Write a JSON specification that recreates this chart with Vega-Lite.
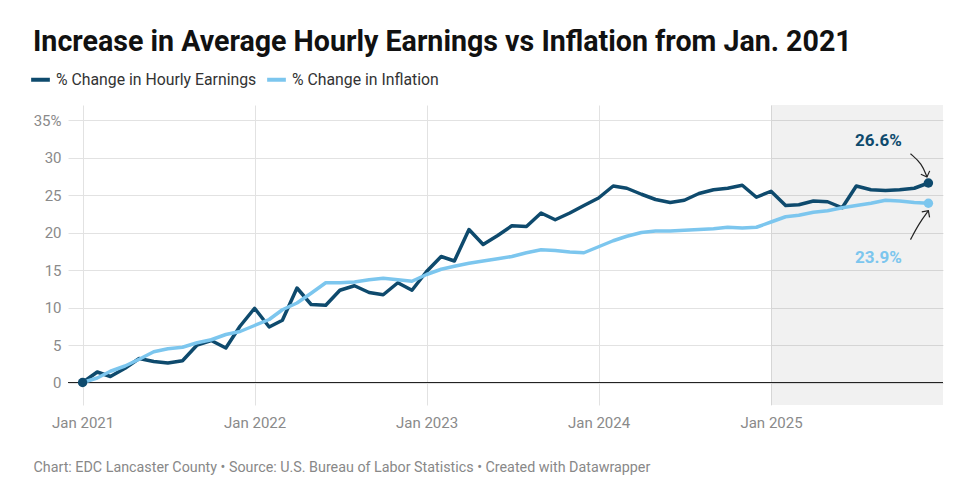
{
  "$schema": "https://vega.github.io/schema/vega-lite/v6.json",
  "width": 875,
  "height": 300,
  "autosize": {"type": "none"},
  "padding": {"left": 68, "top": 105, "right": 12, "bottom": 82},
  "background": "white",
  "config": {"font": "Roboto", "view": {"stroke": null}},
  "title": {
    "text": "Increase in Average Hourly Earnings vs Inflation from Jan. 2021",
    "anchor": "start",
    "frame": "group",
    "dx": -35,
    "offset": -12,
    "fontSize": 28.6,
    "fontWeight": "bold",
    "font": "Roboto",
    "color": "#111111",
    "baseline": "alphabetic"
  },
  "datasets": {
    "series": [
      {"date": "2021-01-01", "earnings": 0, "inflation": 0},
      {"date": "2021-02-01", "earnings": 1.4, "inflation": 0.6},
      {"date": "2021-03-01", "earnings": 0.8, "inflation": 1.5},
      {"date": "2021-04-01", "earnings": 1.9, "inflation": 2.2},
      {"date": "2021-05-01", "earnings": 3.2, "inflation": 3.1},
      {"date": "2021-06-01", "earnings": 2.8, "inflation": 4.1},
      {"date": "2021-07-01", "earnings": 2.6, "inflation": 4.5},
      {"date": "2021-08-01", "earnings": 2.9, "inflation": 4.7},
      {"date": "2021-09-01", "earnings": 5.0, "inflation": 5.3},
      {"date": "2021-10-01", "earnings": 5.6, "inflation": 5.7},
      {"date": "2021-11-01", "earnings": 4.6, "inflation": 6.4},
      {"date": "2021-12-01", "earnings": 7.5, "inflation": 6.8},
      {"date": "2022-01-01", "earnings": 9.9, "inflation": 7.6},
      {"date": "2022-02-01", "earnings": 7.4, "inflation": 8.4},
      {"date": "2022-03-01", "earnings": 8.3, "inflation": 9.7},
      {"date": "2022-04-01", "earnings": 12.6, "inflation": 10.6},
      {"date": "2022-05-01", "earnings": 10.4, "inflation": 11.9},
      {"date": "2022-06-01", "earnings": 10.3, "inflation": 13.3},
      {"date": "2022-07-01", "earnings": 12.3, "inflation": 13.3},
      {"date": "2022-08-01", "earnings": 12.9, "inflation": 13.4},
      {"date": "2022-09-01", "earnings": 12.0, "inflation": 13.7},
      {"date": "2022-10-01", "earnings": 11.7, "inflation": 13.9},
      {"date": "2022-11-01", "earnings": 13.3, "inflation": 13.7},
      {"date": "2022-12-01", "earnings": 12.3, "inflation": 13.5},
      {"date": "2023-01-01", "earnings": 14.8, "inflation": 14.4},
      {"date": "2023-02-01", "earnings": 16.8, "inflation": 15.1},
      {"date": "2023-03-01", "earnings": 16.2, "inflation": 15.5},
      {"date": "2023-04-01", "earnings": 20.4, "inflation": 15.9},
      {"date": "2023-05-01", "earnings": 18.4, "inflation": 16.2},
      {"date": "2023-06-01", "earnings": 19.6, "inflation": 16.5},
      {"date": "2023-07-01", "earnings": 20.9, "inflation": 16.8},
      {"date": "2023-08-01", "earnings": 20.8, "inflation": 17.3},
      {"date": "2023-09-01", "earnings": 22.6, "inflation": 17.7},
      {"date": "2023-10-01", "earnings": 21.7, "inflation": 17.6},
      {"date": "2023-11-01", "earnings": 22.6, "inflation": 17.4},
      {"date": "2023-12-01", "earnings": 23.6, "inflation": 17.3},
      {"date": "2024-01-01", "earnings": 24.6, "inflation": 18.1},
      {"date": "2024-02-01", "earnings": 26.2, "inflation": 18.9},
      {"date": "2024-03-01", "earnings": 25.9, "inflation": 19.5},
      {"date": "2024-04-01", "earnings": 25.1, "inflation": 20.0},
      {"date": "2024-05-01", "earnings": 24.4, "inflation": 20.2},
      {"date": "2024-06-01", "earnings": 24.0, "inflation": 20.2},
      {"date": "2024-07-01", "earnings": 24.3, "inflation": 20.3},
      {"date": "2024-08-01", "earnings": 25.2, "inflation": 20.4},
      {"date": "2024-09-01", "earnings": 25.7, "inflation": 20.5},
      {"date": "2024-10-01", "earnings": 25.9, "inflation": 20.7},
      {"date": "2024-11-01", "earnings": 26.3, "inflation": 20.6},
      {"date": "2024-12-01", "earnings": 24.7, "inflation": 20.7},
      {"date": "2025-01-01", "earnings": 25.5, "inflation": 21.4},
      {"date": "2025-02-01", "earnings": 23.6, "inflation": 22.1},
      {"date": "2025-03-01", "earnings": 23.7, "inflation": 22.3},
      {"date": "2025-04-01", "earnings": 24.2, "inflation": 22.7},
      {"date": "2025-05-01", "earnings": 24.1, "inflation": 22.9},
      {"date": "2025-06-01", "earnings": 23.3, "inflation": 23.3},
      {"date": "2025-07-01", "earnings": 26.2, "inflation": 23.6},
      {"date": "2025-08-01", "earnings": 25.7, "inflation": 23.9},
      {"date": "2025-09-01", "earnings": 25.6, "inflation": 24.3},
      {"date": "2025-10-01", "earnings": 25.7, "inflation": 24.2},
      {"date": "2025-11-01", "earnings": 25.9, "inflation": 24.0},
      {"date": "2025-12-01", "earnings": 26.6, "inflation": 23.9}
    ]
  },
  "encoding": {
    "x": {
      "field": "date",
      "type": "temporal",
      "scale": {"type": "utc", "domain": [{"year": 2020, "month": 12, "date": 1, "utc": true}, {"year": 2026, "month": 1, "date": 1, "utc": true}]},
      "axis": {
        "values": [
          {"year": 2021, "month": 1, "date": 1, "utc": true},
          {"year": 2022, "month": 1, "date": 1, "utc": true},
          {"year": 2023, "month": 1, "date": 1, "utc": true},
          {"year": 2024, "month": 1, "date": 1, "utc": true},
          {"year": 2025, "month": 1, "date": 1, "utc": true}
        ],
        "labelExpr": "utcFormat(datum.value, '%b %Y')",
        "grid": true,
        "gridColor": "#e2e2e2",
        "gridWidth": 1,
        "domain": false,
        "ticks": false,
        "labelFlush": false,
        "labelColor": "#8a8a8a",
        "labelFontSize": 15,
        "labelPadding": 10,
        "title": "Chart: EDC Lancaster County • Source: U.S. Bureau of Labor Statistics • Created with Datawrapper",
        "titleAnchor": "start",
        "titleAlign": "left",
        "titleX": -35,
        "titleY": 66,
        "titleBaseline": "alphabetic",
        "titleFontSize": 14.3,
        "titleFontWeight": "normal",
        "titleColor": "#888888"
      }
    },
    "y": {
      "field": "value",
      "type": "quantitative",
      "scale": {"domain": [-3, 37], "nice": false, "zero": false},
      "axis": {
        "values": [0, 5, 10, 15, 20, 25, 30, 35],
        "labelExpr": "datum.value == 35 ? '35%' : datum.label",
        "grid": true,
        "gridColor": "#e2e2e2",
        "domain": false,
        "ticks": false,
        "labelPadding": 7,
        "labelColor": "#8a8a8a",
        "labelFontSize": 15,
        "title": null
      }
    }
  },
  "layer": [
    {
      "data": {"values": [{"date": "2025-01-01", "end": "2026-01-01", "value": -3, "top": 37}]},
      "mark": {"type": "rect", "fill": "#000000", "fillOpacity": 0.055},
      "encoding": {"x2": {"field": "end"}, "y2": {"field": "top"}}
    },
    {
      "data": {"values": [{"date": "2020-12-01", "end": "2026-01-01", "value": 0}]},
      "mark": {"type": "rule", "color": "#222222", "strokeWidth": 1.2},
      "encoding": {"x2": {"field": "end"}}
    },
    {
      "data": {"name": "series"},
      "transform": [{"fold": ["earnings", "inflation"], "as": ["series", "value"]}],
      "mark": {"type": "line", "strokeWidth": 3.5, "strokeJoin": "round"},
      "encoding": {
        "color": {
          "field": "series",
          "type": "nominal",
          "scale": {"domain": ["earnings", "inflation"], "range": ["#0e4a6d", "#7cc6ee"]},
          "legend": {
            "orient": "none",
            "legendX": -39,
            "legendY": -37,
            "direction": "horizontal",
            "title": null,
            "symbolType": "stroke",
            "symbolStrokeWidth": 4,
            "symbolSize": 350,
            "labelFontSize": 15.8,
            "labelColor": "#333333",
            "columnPadding": 2,
            "labelLimit": 0,
            "labelExpr": "datum.value == 'earnings' ? '% Change in Hourly Earnings' : '% Change in Inflation'"
          }
        }
      }
    },
    {
      "data": {"values": [
        {"date": "2021-01-01", "value": 0, "series": "earnings"},
        {"date": "2025-12-01", "value": 26.6, "series": "earnings"},
        {"date": "2025-12-01", "value": 23.9, "series": "inflation"}
      ]},
      "mark": {"type": "circle", "size": 90, "opacity": 1},
      "encoding": {"color": {"field": "series", "type": "nominal", "legend": null}}
    },
    {
      "data": {"values": [
        {"arrow": "a", "date": "2025-10-24", "value": 30.5},
        {"arrow": "a", "date": "2025-11-17", "value": 29.2},
        {"arrow": "a", "date": "2025-11-28", "value": 27.4},
        {"arrow": "b", "date": "2025-10-24", "value": 19.05},
        {"arrow": "b", "date": "2025-11-11", "value": 21.2},
        {"arrow": "b", "date": "2025-12-01", "value": 22.9}
      ]},
      "mark": {"type": "line", "interpolate": "basis", "color": "#222222", "strokeWidth": 1.2},
      "encoding": {"detail": {"field": "arrow"}}
    },
    {
      "data": {"values": [{"date": "2025-11-28", "value": 27.4}]},
      "mark": {"type": "point", "shape": "M-1,-1L0,0L1,-1", "size": 90, "filled": false, "stroke": "#222222", "strokeWidth": 1.2, "angle": 339, "opacity": 1}
    },
    {
      "data": {"values": [{"date": "2025-12-01", "value": 22.9}]},
      "mark": {"type": "point", "shape": "M-1,1L0,0L1,1", "size": 90, "filled": false, "stroke": "#222222", "strokeWidth": 1.2, "angle": 35, "opacity": 1}
    },
    {
      "data": {"values": [
        {"date": "2025-08-17", "value": 31.6, "label": "26.6%", "series": "earnings"},
        {"date": "2025-08-17", "value": 16.0, "label": "23.9%", "series": "inflation"}
      ]},
      "mark": {"type": "text", "fontSize": 17, "fontWeight": "bold", "align": "center", "baseline": "alphabetic"},
      "encoding": {
        "text": {"field": "label"},
        "color": {"field": "series", "type": "nominal", "legend": null}
      }
    }
  ]
}
